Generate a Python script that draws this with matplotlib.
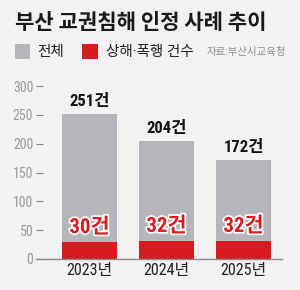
import matplotlib
matplotlib.use('Agg')
import matplotlib.pyplot as plt
import matplotlib.patches as patches
import matplotlib.patheffects as pe

plt.rcParams['font.family'] = ['Noto Sans CJK KR', 'DejaVu Sans']

# data
years = ['2023년', '2024년', '2025년']
total = [251, 204, 172]
assault = [30, 32, 32]
total_labels = ['251건', '204건', '172건']
assault_labels = ['30건', '32건', '32건']
yticks = [0, 50, 100, 150, 200, 250, 300]

GRAY = '#b5b6b9'
RED = '#d81a21'
BG = '#f2f2f2'
NARROW = ['Roboto Condensed', 'Noto Sans CJK KR', 'DejaVu Sans']

fig = plt.figure(figsize=(3.0, 2.9), dpi=100, facecolor=BG)
ax = fig.add_axes([0.12, 0.107, 0.82, 0.596])
ax.set_facecolor(BG)

x = list(range(len(years)))
ax.bar(x, total, width=0.714, color=GRAY, zorder=2)
ax.bar(x, assault, width=0.714, color=RED, zorder=3)

for i in x:
    ax.text(i, total[i] + 9, total_labels[i], ha='center', va='bottom',
            fontsize=12, fontweight='bold', color='#111111', family=NARROW)
    ax.text(i, assault[i] + 8, assault_labels[i], ha='center', va='bottom',
            fontsize=15, fontweight='bold', color=RED, family=NARROW, zorder=4,
            path_effects=[pe.withStroke(linewidth=2.5, foreground='white')])

ax.set_xlim(-0.695, 2.5)
ax.set_ylim(0, 300)
ax.set_yticks(yticks)
ax.set_yticklabels([str(t) for t in yticks], family=NARROW, fontsize=10, color='#9a9a9a')
ax.tick_params(axis='y', direction='in', length=5, width=0.8, color='#8a8a8a', pad=2)
ax.set_xticks(x)
ax.set_xticklabels(years, family=NARROW, fontsize=11.5, color='#222222')
ax.tick_params(axis='x', length=0, pad=3)

for s in ['top', 'right', 'left']:
    ax.spines[s].set_visible(False)
ax.spines['bottom'].set_color('#8a8a8a')
ax.spines['bottom'].set_linewidth(1.0)
ax.spines['bottom'].set_zorder(5)

# title
fig.text(0.05, 0.924, '부산 교권침해 인정 사례 추이', ha='left', va='center',
         fontsize=15.2, fontweight='bold', color='#1a1a1a')

# legend
fig.patches.append(patches.Rectangle((0.05, 0.795), 0.05, 0.052, transform=fig.transFigure,
                                     facecolor=GRAY, edgecolor='none'))
fig.text(0.125, 0.821, '전체', ha='left', va='center', fontsize=10.5, color='#222222')
fig.patches.append(patches.Rectangle((0.273, 0.795), 0.053, 0.052, transform=fig.transFigure,
                                     facecolor=RED, edgecolor='none'))
fig.text(0.355, 0.821, '상해·폭행 건수', ha='left', va='center', fontsize=10.5, color='#222222',
         family=['Roboto', 'Noto Sans CJK KR'])
fig.text(0.955, 0.821, '자료:부산시교육청', ha='right', va='center', fontsize=7.5, color='#8f8f8f',
         family=['Roboto', 'Noto Sans CJK KR'])

fig.savefig('out.png', dpi=100, facecolor=BG)
